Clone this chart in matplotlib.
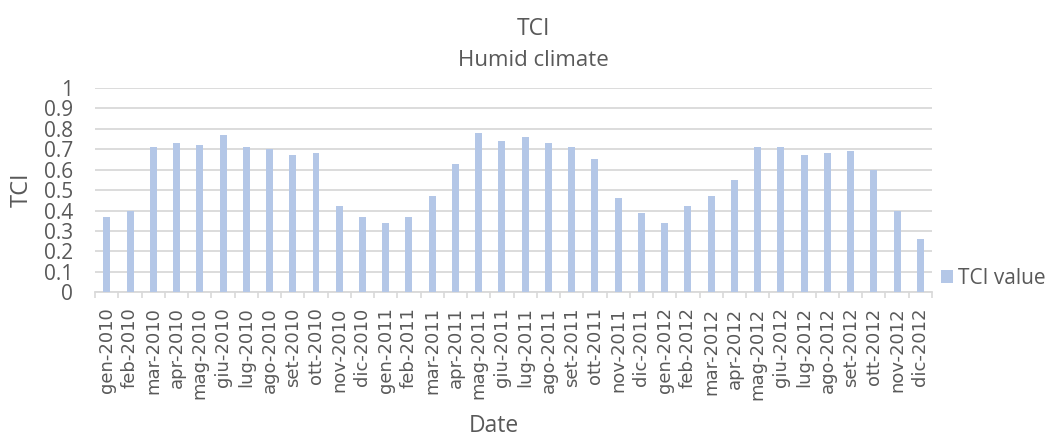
import matplotlib
matplotlib.use("Agg")
import matplotlib.pyplot as plt
import numpy as np

plt.rcParams['font.family'] = ['Open Sans', 'DejaVu Sans']

mesi = ["gen", "feb", "mar", "apr", "mag", "giu", "lug", "ago", "set", "ott", "nov", "dic"]
anni = ["2010", "2011", "2012"]
date = [m + "-" + a for a in anni for m in mesi]

tci_2010 = [0.37, 0.40, 0.71, 0.73, 0.72, 0.77, 0.71, 0.70, 0.67, 0.68, 0.42, 0.37]
tci_2011 = [0.34, 0.37, 0.47, 0.63, 0.78, 0.74, 0.76, 0.73, 0.71, 0.65, 0.46, 0.39]
tci_2012 = [0.34, 0.42, 0.47, 0.55, 0.71, 0.71, 0.67, 0.68, 0.69, 0.60, 0.40, 0.26]
tci = tci_2010 + tci_2011 + tci_2012

testo = "#595959"
barra = "#b4c7e7"
griglia = "#d9d9d9"

fig = plt.figure(figsize=(10.46, 4.38), dpi=100)
ax = fig.add_axes([0.091, 0.333, 0.8, 0.466])

x = np.arange(len(date))
ax.bar(x, tci, width=0.3, color=barra, label="TCI value", zorder=3)

ax.set_xlim(-0.5, len(date) - 0.5)
ax.set_ylim(0, 1)
ax.set_yticks(np.arange(0, 1.01, 0.1))
ax.set_yticklabels(["0", "0.1", "0.2", "0.3", "0.4", "0.5", "0.6", "0.7", "0.8", "0.9", "1"])
ax.yaxis.grid(True, color=griglia, linewidth=1.3, zorder=0)
ax.tick_params(axis="y", length=0, labelsize=15, labelcolor=testo, pad=16)

ax.set_xticks(x)
ax.set_xticklabels(date, rotation=90, fontsize=13, color=testo, family="DejaVu Sans")
ax.set_xticks(np.arange(-0.5, len(date), 1), minor=True)
ax.tick_params(axis="x", which="major", length=0, pad=11)
ax.tick_params(axis="x", which="minor", length=4.5, width=1.2, color=griglia, direction="out")

for s in ["top", "right", "left"]:
    ax.spines[s].set_visible(False)
ax.spines["bottom"].set_color(griglia)
ax.spines["bottom"].set_linewidth(1.3)

fig.text(0.021, 0.566, "TCI", rotation=90, ha="center", va="center", fontsize=17, color=testo)
fig.text(0.472, 0.014, "Date", ha="center", va="baseline", fontsize=16.5, color=testo)
fig.text(0.51, 0.920, "TCI", ha="center", va="baseline", fontsize=16.5, color=testo)
fig.text(0.51, 0.849, "Humid climate", ha="center", va="baseline", fontsize=16, color=testo)

ax.legend(loc="center left", bbox_to_anchor=(1.011, 0.069), frameon=False,
          fontsize=15, labelcolor=testo, handlelength=0.58, handleheight=0.58,
          handletextpad=0.25, borderpad=0, borderaxespad=0)

fig.savefig("out.png", dpi=100)
